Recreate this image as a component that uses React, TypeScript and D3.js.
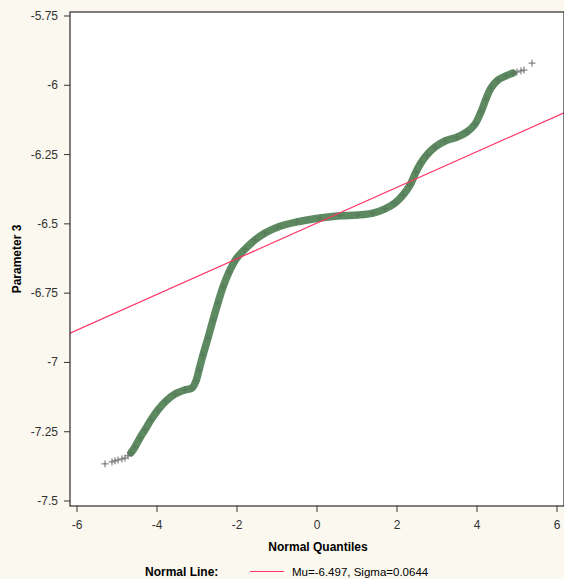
import React, { useEffect } from "react";
import * as d3 from "d3";

// Normal quantile (x) and Parameter 3 value (y) — lower tail markers
const lowTailX = [-5.3, -5.125, -5.05, -4.975, -4.875, -4.8, -4.725];
const lowTailY = [-7.366, -7.359, -7.355, -7.352, -7.348, -7.345, -7.337];

// dense body of the Q-Q plot
const bodyX = [
  -4.65, -4.55, -4.425, -4.3, -4.15, -3.975, -3.775, -3.55, -3.3, -3.125, -3.025, -2.95,
  -2.85, -2.725, -2.6, -2.475, -2.35, -2.2, -2.025, -1.8, -1.55, -1.3, -0.975, -0.5,
  0.075, 0.575, 1.025, 1.4, 1.7, 1.95, 2.15, 2.325, 2.475, 2.6, 2.75, 2.95, 3.2, 3.5,
  3.75, 3.95, 4.1, 4.225, 4.35, 4.525, 4.725, 4.9,
];
const bodyY = [
  -7.326, -7.305, -7.272, -7.243, -7.207, -7.171, -7.139, -7.114, -7.099, -7.092, -7.067, -7.027,
  -6.973, -6.912, -6.847, -6.785, -6.728, -6.674, -6.627, -6.591, -6.558, -6.533, -6.511, -6.493,
  -6.479, -6.471, -6.468, -6.461, -6.446, -6.425, -6.396, -6.36, -6.313, -6.28, -6.251, -6.223,
  -6.201, -6.187, -6.168, -6.14, -6.096, -6.049, -6.01, -5.981, -5.966, -5.956,
];

// upper tail markers
const highTailX = [5.0, 5.1, 5.175, 5.375];
const highTailY = [-5.952, -5.948, -5.945, -5.92];

const xTicks = [-6, -4, -2, 0, 2, 4, 6];
const yTicks = [-5.75, -6, -6.25, -6.5, -6.75, -7, -7.25, -7.5];

const mu = -6.497;
const sigma = 0.0644;

const W = 564;
const H = 579;
const font = "'Liberation Sans', Arial, sans-serif";

export default function App() {
  useEffect(() => {
    document.body.style.margin = "0";
  }, []);

  const left = 70, top = 12, right = 564, bottom = 506;
  const x = d3.scaleLinear().domain([-6.175, 6.175]).range([left, right]);
  const y = d3.scaleLinear().domain([-5.7356, -7.518]).range([top, bottom]);

  const body = bodyX.map((v, i) => [v, bodyY[i]] as [number, number]);
  const line = d3
    .line<[number, number]>()
    .x((d) => x(d[0]))
    .y((d) => y(d[1]))
    .curve(d3.curveCatmullRom);

  const fitDomain = x.domain();
  const fitLine = d3
    .line<number>()
    .x((d) => x(d))
    .y((d) => y(mu + sigma * d));

  const plus = (cx: number, cy: number, k: string, color: string) => (
    <path
      key={k}
      d={`M${cx - 3.5},${cy}H${cx + 3.5}M${cx},${cy - 3.5}V${cy + 3.5}`}
      stroke={color}
      strokeWidth={1}
      fill="none"
    />
  );

  return (
    <svg width={W} height={H} style={{ display: "block", position: "absolute", left: 0, top: 0 }}>
      <rect x={0} y={0} width={W} height={H} fill="#FBF8EF" />
      <rect x={left} y={top} width={right - left} height={bottom - top} fill="#FFFFFF" />

      <defs>
        <clipPath id="plotClip">
          <rect x={left} y={top} width={right - left} height={bottom - top} />
        </clipPath>
      </defs>

      <g clipPath="url(#plotClip)">
        <path d={line(body) || ""} stroke="#5D8A61" strokeWidth={7.5} fill="none" strokeLinecap="round" strokeLinejoin="round" />
        {body.map((d, i) => plus(x(d[0]), y(d[1]), "b" + i, "rgba(80,105,85,0.5)"))}
        {lowTailX.map((v, i) => plus(x(v), y(lowTailY[i]), "l" + i, "#6B6B6B"))}
        {highTailX.map((v, i) => plus(x(v), y(highTailY[i]), "h" + i, "#6B6B6B"))}
        <path d={fitLine(fitDomain) || ""} stroke="#FF3366" strokeWidth={1.2} fill="none" />
      </g>

      <rect x={left} y={top} width={right - left} height={bottom - top} fill="none" stroke="#000" strokeWidth={1} />

      {yTicks.map((t) => (
        <g key={"y" + t}>
          <line x1={left - 6} x2={left} y1={y(t)} y2={y(t)} stroke="#333" />
          <text x={left - 12} y={y(t) + 4} textAnchor="end" fontFamily={font} fontSize={12} fill="#333">
            {t}
          </text>
        </g>
      ))}
      {xTicks.map((t) => (
        <g key={"x" + t}>
          <line x1={x(t)} x2={x(t)} y1={bottom} y2={bottom + 6} stroke="#333" />
          <text x={x(t)} y={bottom + 23} textAnchor="middle" fontFamily={font} fontSize={12} fill="#333">
            {t}
          </text>
        </g>
      ))}

      <text
        transform={`translate(21,${(top + bottom) / 2}) rotate(-90)`}
        textAnchor="middle"
        fontFamily={font}
        fontSize={12}
        fontWeight="bold"
        fill="#000"
      >
        Parameter 3
      </text>
      <text x={(left + right) / 2 + 1} y={551} textAnchor="middle" fontFamily={font} fontSize={12} fontWeight="bold" fill="#000">
        Normal Quantiles
      </text>

      <text x={145} y={576} fontFamily={font} fontSize={12} fontWeight="bold" fill="#000">
        Normal Line:
      </text>
      <line x1={250} x2={284} y1={571.5} y2={571.5} stroke="#FF3366" strokeWidth={1.2} />
      <text x={292} y={576} fontFamily={font} fontSize={11.5} fill="#000">
        Mu=-6.497, Sigma=0.0644
      </text>
    </svg>
  );
}
